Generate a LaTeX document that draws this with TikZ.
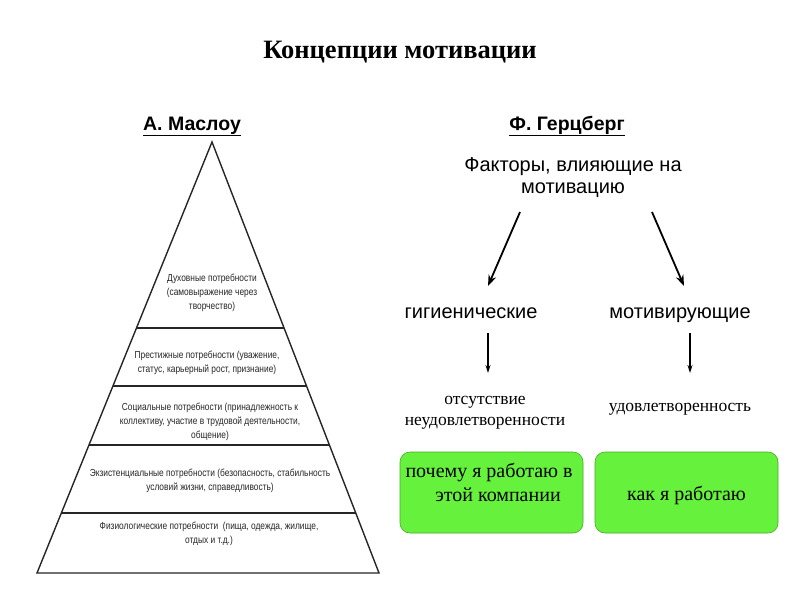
\documentclass[tikz,border=0pt]{standalone}
\usepackage{fontspec}
\setmainfont{Liberation Serif}
\setsansfont{Liberation Sans}
\newfontfamily\narrowfont[FakeStretch=0.82]{Liberation Sans}
\usetikzlibrary{arrows.meta,calc}
\definecolor{lime}{RGB}{102,242,60}
\definecolor{limeborder}{RGB}{70,170,40}
\tikzset{
  pyrtext/.style={align=center, text=black!85, font=\narrowfont\fontsize{10.2}{14}\selectfont, inner sep=0pt},
  pyrline/.style={line width=1.4pt, black!85},
  head/.style={font=\sffamily\bfseries\fontsize{19.5}{22}\selectfont, inner sep=0pt},
  factor/.style={font=\sffamily\fontsize{20}{22}\selectfont, align=center, inner sep=0pt},
  result/.style={font=\rmfamily\fontsize{17.5}{21}\selectfont, align=center, inner sep=0pt},
  bigarrow/.style={line width=1.8pt, -{Stealth[length=11pt,width=8pt]}},
  smallarrow/.style={line width=1.2pt, -{Stealth[length=8pt,width=5pt]}},
  greenbox/.style={draw=limeborder, line width=0.6pt, fill=lime, rounded corners=10pt, minimum width=183pt, minimum height=81pt, inner sep=0pt},
  boxtext/.style={align=center, inner sep=0pt, font=\rmfamily\fontsize{20}{24}\selectfont}
}
\begin{document}
\begin{tikzpicture}[x=1pt,y=-1pt]
\useasboundingbox[fill=white] (0,0) rectangle (800,600);

% title
\node[font=\rmfamily\bfseries\fontsize{26.5}{30}\selectfont, inner sep=0pt, anchor=base] (title) at (400,58) {Концепции мотивации};

% headings
\node[head, anchor=base] (maslow) at (192,130) {\underline{А. Маслоу}};
\node[head, anchor=base] (herz) at (567,130) {\underline{Ф. Герцберг}};

% pyramid
\coordinate (apex) at (212,142);
\coordinate (bl) at (37,573);
\coordinate (br) at (379,573);
\draw[pyrline, line join=miter] (bl) -- (apex) -- (br) -- cycle;
\foreach \t in {0.4316, 0.5661, 0.7030, 0.8608}{
  \draw[pyrline] ($(apex)!\t!(bl)$) -- ($(apex)!\t!(br)$);
}
\node[pyrtext] (l5) at (212,293) {Духовные потребности\\(самовыражение через\\творчество)};
\node[pyrtext] (l4) at (207,362.5) {Престижные потребности (уважение,\\статус, карьерный рост, признание)};
\node[pyrtext] (l3) at (210,422) {Социальные потребности (принадлежность к\\коллективу, участие в трудовой деятельности,\\общение)};
\node[pyrtext] (l2) at (210,481) {Экзистенциальные потребности (безопасность, стабильность\\условий жизни, справедливость)};
\node[pyrtext] (l1) at (209,534) {Физиологические потребности\ \ (пища, одежда, жилище,\\отдых и т.д.)};

% Herzberg
\node[factor] (fact) at (573,178) {Факторы, влияющие на\\мотивацию};
\node[factor, anchor=base] (hyg) at (471,318) {гигиенические};
\node[factor, anchor=base] (mot) at (680,318) {мотивирующие};

\coordinate (a1s) at (520,212);
\coordinate (a1e) at (488,286);
\coordinate (a2s) at (652,212);
\coordinate (a2e) at (684,286);
\draw[bigarrow] (a1s) -- (a1e);
\draw[bigarrow] (a2s) -- (a2e);

\node[result] (abs) at (485,413) {отсутствие\\неудовлетворенности};
\node[result, anchor=base] (sat) at (680,411) {удовлетворенность};

\coordinate (b1s) at (488,333);
\coordinate (b1e) at (488,373);
\coordinate (b2s) at (690,333);
\coordinate (b2e) at (690,373);
\draw[smallarrow] (b1s) -- (b1e);
\draw[smallarrow] (b2s) -- (b2e);

\node[greenbox] (why) at (491.5,492.5) {};
\node[boxtext] (whyt) at (493,482) {\hspace*{-8pt}почему я работаю в\\\hspace*{10pt}этой компании};
\node[greenbox] (how) at (686.5,492.5) {};
\node[boxtext, anchor=base] (howt) at (686.5,500) {как я работаю};
\end{tikzpicture}
\end{document}
